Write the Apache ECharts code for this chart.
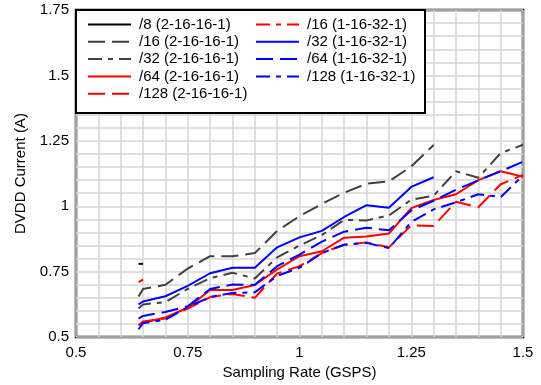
<!DOCTYPE html>
<html><head><meta charset="utf-8">
<script src="https://cdn.jsdelivr.net/npm/echarts@6/dist/echarts.min.js"></script>
<style>html,body{margin:0;padding:0;background:#fff}#c{width:541px;height:385px}</style>
</head><body><div id="c"></div>
<script>
var xs = [0.64,0.65,0.70,0.75,0.80,0.85,0.90,0.95,1.00,1.05,1.10,1.15,1.20,1.25,1.30,1.35,1.40,1.45,1.50];
var xTickLabels = ['0.5','0.75','1','1.25','1.5'];
var yTickLabels = ['0.5','0.75','1','1.25','1.5','1.75'];
var names = ['/8 (2-16-16-1)','/16 (2-16-16-1)','/32 (2-16-16-1)','/64 (2-16-16-1)','/128 (2-16-16-1)',
             '/16 (1-16-32-1)','/32 (1-16-32-1)','/64 (1-16-32-1)','/128 (1-16-32-1)'];
var d8a   = [0.78,0.78,null,null,null,null,null,null,null,null,null,null,null,null,null,null,null,null,null];
var d16a  = [0.655,0.684,0.700,0.762,0.809,0.809,0.821,0.906,0.962,1.009,1.052,1.086,1.095,1.152,1.234,null,null,null,null];
var d32a  = [0.609,0.625,0.634,0.684,0.725,0.746,0.724,0.805,0.850,0.890,0.948,0.946,0.965,1.025,1.040,1.134,1.109,1.203,1.235];
var d64a  = [0.546,0.555,0.575,0.612,0.680,0.680,0.699,0.759,0.809,0.828,0.880,0.884,0.896,0.993,1.024,1.046,1.100,1.134,1.113];
var d128a = [0.545,0.560,0.571,0.609,0.653,0.665,0.650,0.743,0.771,0.821,0.853,0.862,0.843,0.927,0.925,1.017,0.996,1.084,1.120];
var d16b  = [0.710,0.720,null,null,null,null,null,null,null,null,null,null,null,null,null,null,null,null,null];
var d32b  = [0.625,0.636,0.656,0.696,0.744,0.765,0.765,0.843,0.881,0.906,0.959,1.004,0.994,1.074,1.111,null,null,null,null];
var d64b  = [0.571,0.581,0.596,0.618,0.684,0.701,0.700,0.771,0.815,0.865,0.903,0.918,0.908,0.984,1.021,1.063,1.099,1.134,1.170];
var d128b = [0.530,0.553,0.566,0.615,0.653,0.669,0.671,0.734,0.765,0.821,0.853,0.860,0.840,0.940,0.988,1.015,1.046,1.035,1.118];

var allData = [d8a,d16a,d32a,d64a,d128a,d16b,d32b,d64b,d128b];
var colors = ['#000000','#404040','#404040','#ff0000','#ff0000','#ff0000','#0000ff','#0000ff','#0000ff'];
var LONG = [17,7], DD = [14,6,5,6];
var dashes = ['solid',LONG,DD,'solid',LONG,DD,'solid',LONG,DD];

function pairs(arr){ var out=[]; for(var i=0;i<xs.length;i++){ if(arr[i]!==null) out.push([xs[i],arr[i]]); } return out; }
function fmt(list){ return function(v){ var s=String(+v.toFixed(2)); return list.indexOf(s)>=0?s:''; }; }

var series = names.map(function(n,i){
  return {name:n,type:'line',data:pairs(allData[i]),symbol:'none',showSymbol:false,z:3,
    lineStyle:{color:colors[i],width:2,type:dashes[i]},itemStyle:{color:colors[i]}};
});
var font = 'Liberation Sans, Arial, sans-serif';
var legendCommon = {orient:'vertical',itemWidth:43,itemHeight:14,itemGap:2.3,padding:0,z:10,
  itemStyle:{opacity:0},
  textStyle:{fontFamily:font,fontSize:15,color:'#000',padding:[0,0,0,3]}};
var chart = echarts.init(document.getElementById('c'),null,{renderer:'canvas'});
chart.setOption({
  animation:false,
  color:colors,
  grid:{left:76,right:18,top:10,bottom:44,show:true,borderColor:'#000',borderWidth:2.5,backgroundColor:'transparent'},
  xAxis:{type:'value',min:0.5,max:1.5,interval:0.25,
    name:'Sampling Rate (GSPS)',nameLocation:'middle',nameGap:24,
    nameTextStyle:{fontFamily:font,fontSize:15,color:'#000'},
    axisLine:{show:false},axisTick:{show:false},
    axisLabel:{fontFamily:font,fontSize:15,color:'#000',margin:8,formatter:fmt(xTickLabels)},
    splitLine:{show:true,lineStyle:{color:'#d6d6d6',width:1.5}},
    minorTick:{show:false,splitNumber:5},
    minorSplitLine:{show:true,lineStyle:{color:'#d6d6d6',width:1.5}}},
  yAxis:{type:'value',min:0.5,max:1.75,interval:0.25,
    name:'DVDD Current (A)',nameLocation:'middle',nameGap:48,
    nameTextStyle:{fontFamily:font,fontSize:15,color:'#000'},
    axisLine:{show:false},axisTick:{show:false},
    axisLabel:{fontFamily:font,fontSize:15,color:'#000',margin:7,formatter:fmt(yTickLabels)},
    splitLine:{show:true,lineStyle:{color:'#d6d6d6',width:1.5}},
    minorTick:{show:false,splitNumber:5},
    minorSplitLine:{show:true,lineStyle:{color:'#d6d6d6',width:1.5}}},
  legend:[
    Object.assign({},legendCommon,{left:87,top:17,data:names.slice(0,5)}),
    Object.assign({},legendCommon,{left:255,top:17,data:names.slice(5)})
  ],
  graphic:[{type:'rect',z:5,shape:{x:76,y:10,width:349,height:103},
    style:{fill:'#fff',stroke:'#000',lineWidth:2}}],
  series:series
});
</script></body></html>
